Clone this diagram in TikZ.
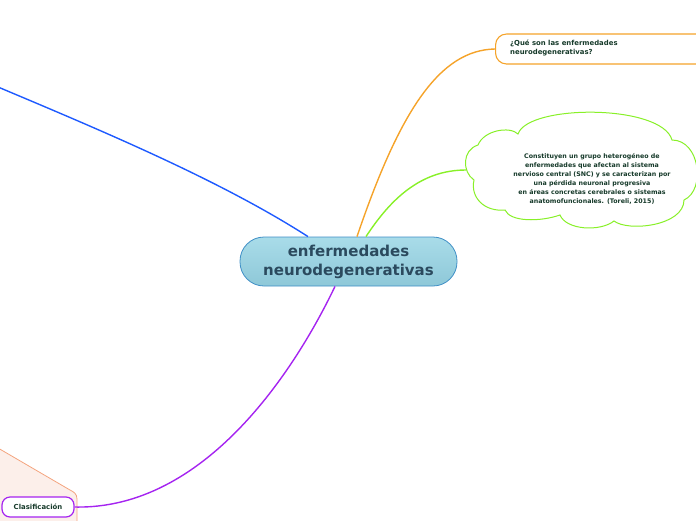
\documentclass[tikz,border=0pt]{standalone}
\usepackage{fontspec}
\setmainfont{DejaVu Sans}
\usetikzlibrary{calc}
\definecolor{cblue}{HTML}{1E5AFF}
\definecolor{corange}{HTML}{F5A32A}
\definecolor{cgreen}{HTML}{88F028}
\definecolor{cpurple}{HTML}{A524F0}
\definecolor{csalfill}{HTML}{FCEFEA}
\definecolor{csaledge}{HTML}{F4A47E}
\definecolor{ccentop}{HTML}{A9DCE9}
\definecolor{ccenbot}{HTML}{8EC8D8}
\definecolor{ccenedge}{HTML}{3F8FC6}
\definecolor{ccentext}{HTML}{2B4A5E}
\definecolor{csmalltext}{HTML}{163A2A}
\tikzset{
  conn/.style={line width=1.4pt},
  smalltxt/.style={text=csmalltext, font=\bfseries\fontsize{6.9}{9}\selectfont},
}
\begin{document}
\begin{tikzpicture}[x=1pt,y=-1pt]
\useasboundingbox (0,0) rectangle (696,520);
% salmon background shape
\path[fill=csalfill, draw=csaledge, line width=0.8pt]
  (-2,448) -- (70,490) .. controls (74,492) and (77,494) .. (77,499) -- (77,523) -- (-2,523) -- cycle;
% central node
\node[draw=ccenedge, line width=0.8pt, top color=ccentop, bottom color=ccenbot,
  rounded corners=24pt, minimum width=217pt, minimum height=49pt, inner sep=0pt,
  align=center, text=ccentext, font=\bfseries\fontsize{15}{19}\selectfont]
  (c) at (348.5,261.5) {enfermedades\hspace{14pt}\\ neurodegenerativas};
% question node
\node[draw=corange, fill=white, line width=1.1pt, rounded corners=11pt,
  minimum width=214pt, minimum height=30pt, inner sep=0pt, anchor=west] (q) at (495,49) {};
\node[smalltxt, align=left, anchor=north west, inner sep=0pt] (qt) at (510,39.5)
  {¿Qué son las enfermedades\\neurodegenerativas?};
% cloud
\path[draw=cgreen, fill=white, line width=1pt]
  (474,180) .. controls (462,172) and (462,150) .. (478,145)
  .. controls (484,130) and (510,126) .. (518,134)
  .. controls (528,104) and (662,104) .. (672,140)
  .. controls (700,140) and (706,190) .. (684,200)
  .. controls (684,226) and (628,232) .. (614,221)
  .. controls (600,232) and (566,230) .. (560,215)
  .. controls (540,222) and (510,222) .. (505,210)
  .. controls (485,212) and (470,198) .. (474,180) -- cycle;
\coordinate (cloudL) at (466,170);
\node[smalltxt, font=\bfseries\fontsize{6.3}{9}\selectfont, align=center, inner sep=0pt] (ct) at (592,178.5)
  {Constituyen un grupo heterogéneo de\\enfermedades que afectan al sistema\\nervioso central (SNC) y se caracterizan por\\una pérdida neuronal progresiva\\en áreas concretas cerebrales o sistemas\\anatomofuncionales. (Toreli, 2015)};
% classification node
\node[draw=cpurple, fill=white, line width=1.2pt, rounded corners=8pt,
  minimum width=72pt, minimum height=20pt, inner sep=0pt, smalltxt] (cls) at (38,507) {Clasificación};
% connectors
\coordinate (blueEnd) at (-2,87);
\draw[conn, cblue] ($(c.north)+(-40.5,0)$) .. controls (220,180) and (100,130) .. (blueEnd);
\draw[conn, corange] ($(c.north)+(8.5,0)$) .. controls (400,110) and (440,50) .. (q.west);
\draw[conn, cgreen] ($(c.north)+(17.5,0)$) .. controls (390,200) and (420,170) .. (cloudL);
\draw[conn, cpurple] ($(c.south)+(-13.5,0)$) .. controls (295,370) and (205,510) .. (cls.east);
\end{tikzpicture}
\end{document}
